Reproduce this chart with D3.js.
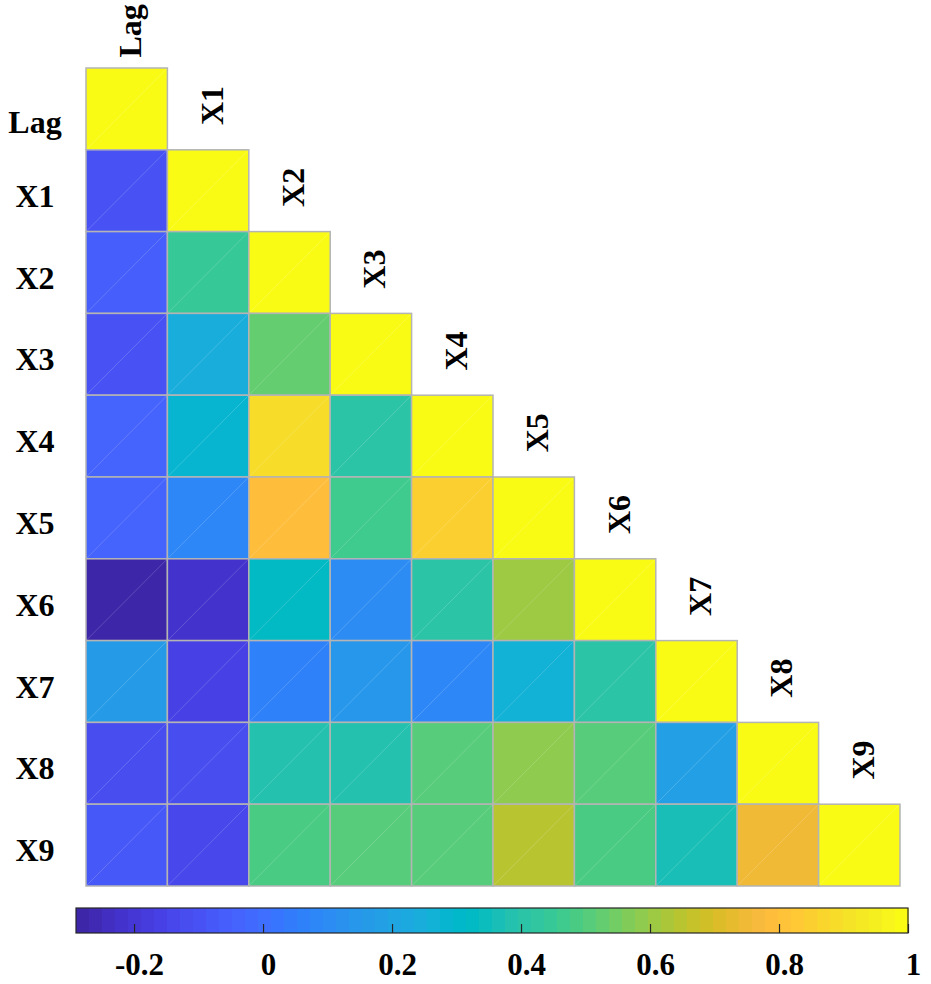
<!DOCTYPE html>
<html>
<head>
<meta charset="utf-8">
<script src="https://cdn.jsdelivr.net/npm/d3@7"></script>
<style>
  html, body { margin: 0; padding: 0; background: #ffffff; }
  svg { display: block; }
  .lbl { font-family: "Liberation Serif", "Times New Roman", serif; font-weight: bold; fill: #000; }
</style>
</head>
<body>
<svg id="chart" width="931" height="984"></svg>
<script>
// ---------- data ----------
const categories = ["Lag", "X1", "X2", "X3", "X4", "X5", "X6", "X7", "X8", "X9"];
// lower-triangular correlation values (row i, columns 0..i)
const rowLag = [1];
const rowX1 = [-0.10, 1];
const rowX2 = [-0.05, 0.45, 1];
const rowX3 = [-0.10, 0.24, 0.53, 1];
const rowX4 = [-0.03, 0.28, 0.89, 0.40, 1];
const rowX5 = [-0.03, 0.09, 0.79, 0.46, 0.84, 1];
const rowX6 = [-0.29, -0.22, 0.32, 0.10, 0.40, 0.61, 1];
const rowX7 = [0.16, -0.16, 0.06, 0.14, 0.09, 0.27, 0.40, 1];
const rowX8 = [-0.12, -0.12, 0.38, 0.38, 0.51, 0.58, 0.51, 0.18, 1];
const rowX9 = [-0.07, -0.14, 0.49, 0.51, 0.51, 0.65, 0.49, 0.36, 0.74, 1];
const corrRows = [rowLag, rowX1, rowX2, rowX3, rowX4, rowX5, rowX6, rowX7, rowX8, rowX9];
const colorbarTicks = [-0.2, 0, 0.2, 0.4, 0.6, 0.8, 1];
const colorbarTickLabels = ["-0.2", "0", "0.2", "0.4", "0.6", "0.8", "1"];

// parula (64 colours)
const parula = [
[0.2422,0.1504,0.6603],[0.2504,0.1650,0.7076],[0.2578,0.1818,0.7511],[0.2647,0.1978,0.7952],
[0.2706,0.2147,0.8364],[0.2751,0.2342,0.8710],[0.2783,0.2559,0.8991],[0.2803,0.2782,0.9221],
[0.2813,0.3006,0.9414],[0.2810,0.3228,0.9579],[0.2795,0.3447,0.9717],[0.2760,0.3667,0.9829],
[0.2699,0.3892,0.9906],[0.2602,0.4123,0.9952],[0.2440,0.4358,0.9988],[0.2206,0.4603,0.9973],
[0.1963,0.4847,0.9892],[0.1834,0.5074,0.9798],[0.1786,0.5289,0.9682],[0.1764,0.5499,0.9520],
[0.1687,0.5703,0.9359],[0.1540,0.5902,0.9218],[0.1460,0.6091,0.9079],[0.1380,0.6276,0.8973],
[0.1248,0.6459,0.8883],[0.1113,0.6635,0.8763],[0.0952,0.6798,0.8598],[0.0689,0.6948,0.8394],
[0.0297,0.7082,0.8163],[0.0036,0.7203,0.7917],[0.0067,0.7312,0.7660],[0.0433,0.7411,0.7394],
[0.0964,0.7500,0.7120],[0.1408,0.7584,0.6842],[0.1717,0.7670,0.6554],[0.1938,0.7758,0.6251],
[0.2161,0.7843,0.5923],[0.2470,0.7918,0.5567],[0.2906,0.7973,0.5188],[0.3406,0.8008,0.4789],
[0.3909,0.8029,0.4354],[0.4456,0.8024,0.3909],[0.5044,0.7993,0.3480],[0.5616,0.7942,0.3045],
[0.6174,0.7876,0.2612],[0.6720,0.7793,0.2227],[0.7242,0.7698,0.1910],[0.7738,0.7598,0.1646],
[0.8203,0.7498,0.1535],[0.8634,0.7406,0.1596],[0.9035,0.7330,0.1774],[0.9393,0.7288,0.2100],
[0.9728,0.7298,0.2394],[0.9956,0.7434,0.2371],[0.9970,0.7659,0.2199],[0.9952,0.7893,0.2028],
[0.9892,0.8136,0.1885],[0.9786,0.8386,0.1766],[0.9676,0.8639,0.1643],[0.9610,0.8890,0.1537],
[0.9597,0.9135,0.1423],[0.9628,0.9373,0.1265],[0.9691,0.9606,0.1064],[0.9769,0.9839,0.0805]
].map(c => d3.rgb(c[0]*255, c[1]*255, c[2]*255).formatHex());

// ---------- layout ----------
const svg = d3.select("#chart");
const gridLeft = 86, gridRight = 900, gridTop = 68, gridBottom = 886;
const cbLeft = 76, cbRight = 908, cbTop = 908, cbBottom = 933;
const fontFamily = '"Liberation Serif", "Times New Roman", serif';
const labelSize = 32;

const cmin = d3.min(corrRows.flat()), cmax = 1;
const color = d3.scaleQuantize().domain([cmin, cmax]).range(parula);

const x = d3.scaleBand().domain(categories).range([gridLeft, gridRight]).padding(0);
const y = d3.scaleBand().domain(categories).range([gridTop, gridBottom]).padding(0);

const cells = [];
corrRows.forEach((row, i) => row.forEach((v, j) => cells.push({ r: categories[i], c: categories[j], v })));

const gCells = svg.append("g");
gCells.selectAll("rect").data(cells).join("rect")
  .attr("x", d => x(d.c)).attr("y", d => y(d.r))
  .attr("width", x.bandwidth()).attr("height", y.bandwidth())
  .attr("fill", d => color(d.v))
  .attr("stroke", "#b4b4b4").attr("stroke-width", 1.5);
// faint triangulation seam seen in the original rendering
gCells.selectAll("line").data(cells).join("line")
  .attr("x1", d => x(d.c) + 1).attr("y1", d => y(d.r) + y.bandwidth() - 1)
  .attr("x2", d => x(d.c) + x.bandwidth() - 1).attr("y2", d => y(d.r) + 1)
  .attr("stroke", "#ffffff").attr("stroke-opacity", 0.22).attr("stroke-width", 0.8);

// row labels
svg.append("g").selectAll("text").data(categories).join("text")
  .attr("class", "lbl")
  .attr("x", 35)
  .attr("y", (d, i) => y(d) + y.bandwidth() / 2 + (i === 0 ? 24 : 16))
  .attr("text-anchor", "middle")
  .style("font-size", labelSize + "px")
  .text(d => d);

// column labels (rotated, just above the diagonal)
svg.append("g").selectAll("text").data(categories).join("text")
  .attr("class", "lbl")
  .attr("transform", d => {
    const cx = x(d) + x.bandwidth() / 2;
    const endY = y(d) - y.bandwidth() + 18;
    return `translate(${cx},${endY}) rotate(-90)`;
  })
  .attr("y", 14.5)
  .attr("text-anchor", "end")
  .style("font-size", labelSize + "px")
  .text(d => d);

// ---------- colorbar ----------
const cbScale = d3.scaleLinear().domain([cmin, cmax]).range([cbLeft, cbRight]);
const nColors = parula.length;
const step = (cmax - cmin) / nColors;
const cb = svg.append("g");
cb.selectAll("rect.band").data(parula).join("rect")
  .attr("class", "band")
  .attr("x", (d, i) => cbScale(cmin + i * step))
  .attr("y", cbTop)
  .attr("width", (d, i) => cbScale(cmin + (i + 1) * step) - cbScale(cmin + i * step) + 0.6)
  .attr("height", cbBottom - cbTop)
  .attr("fill", d => d);

const cbAxis = d3.axisBottom(cbScale)
  .tickValues(colorbarTicks)
  .tickFormat((d, i) => colorbarTickLabels[i])
  .tickSizeInner(-9).tickSizeOuter(0).tickPadding(20);
const ax = cb.append("g").attr("transform", `translate(0,${cbBottom})`).call(cbAxis);
ax.select(".domain").remove();
ax.selectAll(".tick line").attr("stroke", "#262626").attr("stroke-width", 1.2);
ax.selectAll(".tick text")
  .attr("dx", 5)
  .style("font-family", fontFamily).style("font-weight", "bold")
  .style("font-size", "31px").attr("fill", "#000");

cb.append("rect")
  .attr("x", cbLeft).attr("y", cbTop)
  .attr("width", cbRight - cbLeft).attr("height", cbBottom - cbTop)
  .attr("fill", "none").attr("stroke", "#262626").attr("stroke-width", 1.2);
</script>
</body>
</html>
